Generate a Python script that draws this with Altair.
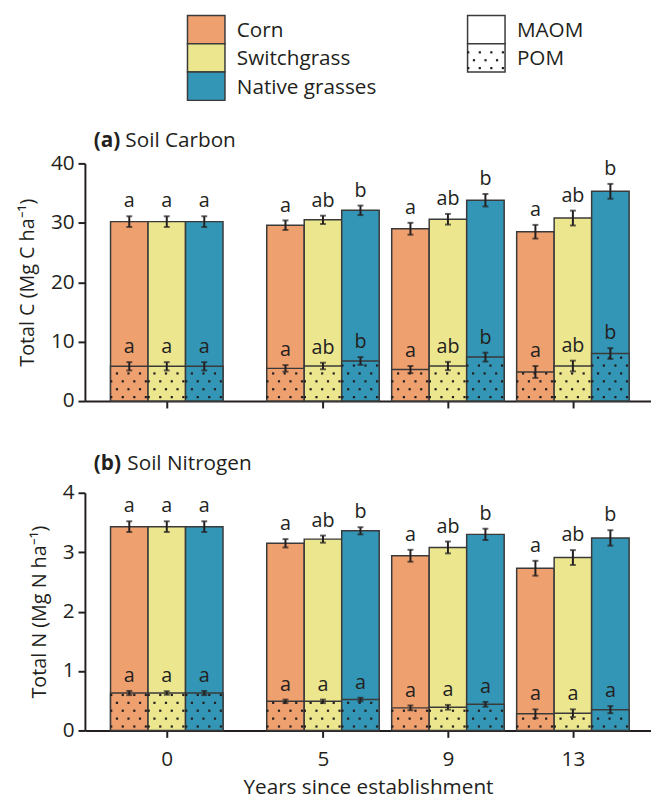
import altair as alt
import pandas as pd

# ---------------- data ----------------
years = [0, 5, 9, 13]
crops = ["Corn", "Switchgrass", "Native grasses"]
crop_colors = ["#EFA06F", "#ECE68F", "#3396B6"]
fractions = ["MAOM", "POM"]

c_total = {"Corn": [30.2, 29.6, 29.0, 28.5],
           "Switchgrass": [30.2, 30.5, 30.6, 30.8],
           "Native grasses": [30.2, 32.1, 33.8, 35.3]}
c_total_se = {"Corn": [0.9, 0.8, 1.0, 1.15],
              "Switchgrass": [0.9, 0.7, 0.9, 1.25],
              "Native grasses": [0.9, 0.8, 1.05, 1.25]}
c_total_letters = {"Corn": ["a", "a", "a", "a"],
                   "Switchgrass": ["a", "ab", "ab", "ab"],
                   "Native grasses": ["a", "b", "b", "b"]}
c_pom = {"Corn": [5.85, 5.5, 5.3, 4.9],
         "Switchgrass": [5.85, 5.9, 5.9, 5.9],
         "Native grasses": [5.85, 6.75, 7.4, 8.0]}
c_pom_se = {"Corn": [0.7, 0.55, 0.6, 1.0],
            "Switchgrass": [0.7, 0.55, 0.7, 0.9],
            "Native grasses": [0.7, 0.65, 0.75, 0.9]}
c_pom_letters = {"Corn": ["a", "a", "a", "a"],
                 "Switchgrass": ["a", "ab", "ab", "ab"],
                 "Native grasses": ["a", "b", "b", "b"]}

n_total = {"Corn": [3.43, 3.15, 2.94, 2.73],
           "Switchgrass": [3.43, 3.22, 3.08, 2.91],
           "Native grasses": [3.43, 3.36, 3.30, 3.24]}
n_total_se = {"Corn": [0.09, 0.07, 0.10, 0.125],
              "Switchgrass": [0.09, 0.06, 0.10, 0.125],
              "Native grasses": [0.09, 0.06, 0.095, 0.13]}
n_total_letters = {"Corn": ["a", "a", "a", "a"],
                   "Switchgrass": ["a", "ab", "ab", "ab"],
                   "Native grasses": ["a", "b", "b", "b"]}
n_pom = {"Corn": [0.63, 0.49, 0.38, 0.28],
         "Switchgrass": [0.63, 0.49, 0.39, 0.29],
         "Native grasses": [0.63, 0.52, 0.44, 0.35]}
n_pom_se = {"Corn": [0.035, 0.03, 0.04, 0.075],
            "Switchgrass": [0.03, 0.03, 0.04, 0.065],
            "Native grasses": [0.035, 0.03, 0.04, 0.06]}
n_pom_letters = {"Corn": ["a", "a", "a", "a"],
                 "Switchgrass": ["a", "a", "a", "a"],
                 "Native grasses": ["a", "a", "a", "a"]}

# ---------------- style ----------------
FONT = "Open Sans"
INK = "#231f20"
EDGE = "#3a3a3a"
BAR_W = 1.2
PLOT_W = 574
PLOT_H = 241
X_DOMAIN = [-2.62, 15.5]


def build_df(total, total_se, total_let, pom, pom_se, pom_let):
    rows = []
    for i, crop in enumerate(crops):
        for j, yr in enumerate(years):
            xc = yr + (i - 1) * BAR_W
            rows.append(dict(crop=crop, year=yr, xc=xc,
                             xl=xc - BAR_W / 2, xr=xc + BAR_W / 2,
                             total=total[crop][j],
                             tlo=total[crop][j] - total_se[crop][j],
                             thi=total[crop][j] + total_se[crop][j],
                             tlet=total_let[crop][j],
                             pom=pom[crop][j],
                             plo=pom[crop][j] - pom_se[crop][j],
                             phi=pom[crop][j] + pom_se[crop][j],
                             plet=pom_let[crop][j], zero=0))
    return pd.DataFrame(rows)


def build_dots(df, ymax):
    ppu = PLOT_H / ymax
    ppy = PLOT_W / (X_DOMAIN[1] - X_DOMAIN[0])
    rows = []
    for _, r in df.iterrows():
        top_px = r.pom * ppu
        k = 0
        while 4 + 8 * k < top_px - 1.5:
            y = (4 + 8 * k) / ppu
            offs_px = [0.7, 12.4, 24.1, 35.8] if k % 2 == 0 else [6.5, 18.2, 29.9]
            for o in offs_px:
                rows.append(dict(x=r.xl + o / ppy, y=y))
            k += 1
    return pd.DataFrame(rows)


def panel(df, ymax, yticks, ytitle, tbold, trest, trest_x, title_y, last):
    dots = build_dots(df, ymax)
    xs = alt.Scale(domain=X_DOMAIN, nice=False, zero=False)
    ys = alt.Scale(domain=[0, ymax], nice=False)
    if last:
        xaxis = alt.Axis(values=years, grid=False, title="Years since establishment",
                         labelFontSize=21, titleFontSize=21, labelPadding=12,
                         titlePadding=7, titleFontWeight="normal")
    else:
        # labels kept but invisible: they only reserve space below panel (a)
        xaxis = alt.Axis(values=years, grid=False, title=None, labelOpacity=0,
                         labelFontSize=10, labelPadding=7)
    yaxis = alt.Axis(values=yticks, grid=False, title=ytitle, labelFontSize=21,
                     titleFontSize=20, titleFontWeight="normal", titlePadding=13,
                     labelPadding=4)
    color = alt.Color("crop:N", scale=alt.Scale(domain=crops, range=crop_colors),
                      legend=None)
    X = lambda f: alt.X(f, scale=xs, axis=xaxis)
    Y = lambda f: alt.Y(f, scale=ys, axis=yaxis)
    base = alt.Chart(df)

    total_bars = base.mark_rect(stroke=EDGE, strokeWidth=1.5).encode(
        x=X("xl:Q"), x2="xr:Q", y=Y("total:Q"), y2="zero:Q", color=color)
    pom_bars = base.mark_rect(stroke=EDGE, strokeWidth=1.5).encode(
        x=X("xl:Q"), x2="xr:Q", y=Y("pom:Q"), y2="zero:Q", color=color)
    dot_layer = alt.Chart(dots).mark_square(size=5, color=INK, opacity=1).encode(
        x=X("x:Q"), y=Y("y:Q"))
    err_t = base.mark_errorbar(ticks=True, size=6, thickness=2, color=INK).encode(
        x=X("xc:Q"), y=Y("tlo:Q"), y2="thi:Q")
    err_p = base.mark_errorbar(ticks=True, size=6, thickness=2, color=INK).encode(
        x=X("xc:Q"), y=Y("plo:Q"), y2="phi:Q")
    let_t = base.mark_text(dy=-9, baseline="alphabetic", fontSize=20, font=FONT,
                           color=INK).encode(x=X("xc:Q"), y=Y("thi:Q"), text="tlet:N")
    let_p = base.mark_text(dy=-9, baseline="alphabetic", fontSize=20, font=FONT,
                           color=INK).encode(x=X("xc:Q"), y=Y("phi:Q"), text="plet:N")
    t1 = alt.Chart(pd.DataFrame({"t": [tbold]})).mark_text(
        align="left", baseline="alphabetic", fontSize=21, font=FONT,
        fontWeight="bold", color=INK).encode(
        x=alt.value(9), y=alt.value(title_y), text="t:N")
    t2 = alt.Chart(pd.DataFrame({"t": [trest]})).mark_text(
        align="left", baseline="alphabetic", fontSize=21, font=FONT,
        color=INK).encode(x=alt.value(trest_x), y=alt.value(title_y), text="t:N")
    return alt.layer(total_bars, pom_bars, dot_layer, err_t, err_p, let_t, let_p,
                     t1, t2).properties(width=PLOT_W, height=PLOT_H)


df_c = build_df(c_total, c_total_se, c_total_letters, c_pom, c_pom_se, c_pom_letters)
df_n = build_df(n_total, n_total_se, n_total_letters, n_pom, n_pom_se, n_pom_letters)

pa = panel(df_c, 40, [0, 10, 20, 30, 40], "Total C (Mg C ha⁻¹)", "(a)",
           "Soil Carbon", 41, -16.5, False)
pb = panel(df_n, 4, [0, 1, 2, 3, 4], "Total N (Mg N ha⁻¹)", "(b)",
           "Soil Nitrogen", 43, -23.5, True)

# ---------------- legend (drawn as a small chart) ----------------
SW_W, SW_H = 38, 28.7
LEG_TOP = 2
leg_rows = []
for i, c in enumerate(crops):
    leg_rows.append(dict(label=c, fill=crop_colors[i], x0=104, x1=104 + SW_W,
                         y0=LEG_TOP + i * SW_H, y1=LEG_TOP + (i + 1) * SW_H))
for i, f in enumerate(fractions):
    leg_rows.append(dict(label=f, fill="#ffffff", x0=388, x1=388 + SW_W,
                         y0=LEG_TOP + i * SW_H, y1=LEG_TOP + (i + 1) * SW_H))
leg = pd.DataFrame(leg_rows)
leg["tx"] = leg["x1"] + 12
leg["ty"] = (leg["y0"] + leg["y1"]) / 2 + 7.5

pom_sw = leg[leg.label == "POM"].iloc[0]
ldots = []
k = 0
while 4 + 8 * k < SW_H - 1.5:
    offs = [0.7, 12.4, 24.1, 35.8] if k % 2 == 0 else [6.5, 18.2, 29.9]
    for o in offs:
        ldots.append(dict(x=pom_sw.x0 + o, y=pom_sw.y1 - 4 - 8 * k))
    k += 1
ldots = pd.DataFrame(ldots)

leg_rect = alt.Chart(leg).mark_rect(stroke=EDGE, strokeWidth=1.5).encode(
    x=alt.X("x0:Q", scale=None, axis=None), x2="x1:Q",
    y=alt.Y("y0:Q", scale=None, axis=None), y2="y1:Q",
    fill=alt.Fill("fill:N", scale=None))
leg_text = alt.Chart(leg).mark_text(align="left", baseline="alphabetic", fontSize=21,
                                    font=FONT, color=INK).encode(
    x=alt.X("tx:Q", scale=None, axis=None), y=alt.Y("ty:Q", scale=None, axis=None),
    text="label:N")
leg_dots = alt.Chart(ldots).mark_square(size=5, color=INK, opacity=1).encode(
    x=alt.X("x:Q", scale=None, axis=None), y=alt.Y("y:Q", scale=None, axis=None))
legend = alt.layer(leg_rect, leg_text, leg_dots).properties(width=PLOT_W, height=90)

chart = alt.vconcat(legend, pa, pb, spacing=28).properties(
    padding={"left": 9, "top": 0, "right": 0, "bottom": 0}
).configure_view(stroke=None).configure_axis(
    domainColor=INK, domainWidth=2, tickColor=INK, tickWidth=2, tickSize=7,
    labelColor=INK, titleColor=INK, labelFont=FONT, titleFont=FONT
)

chart.save("out.html", embed_options={"renderer": "svg", "actions": False})
